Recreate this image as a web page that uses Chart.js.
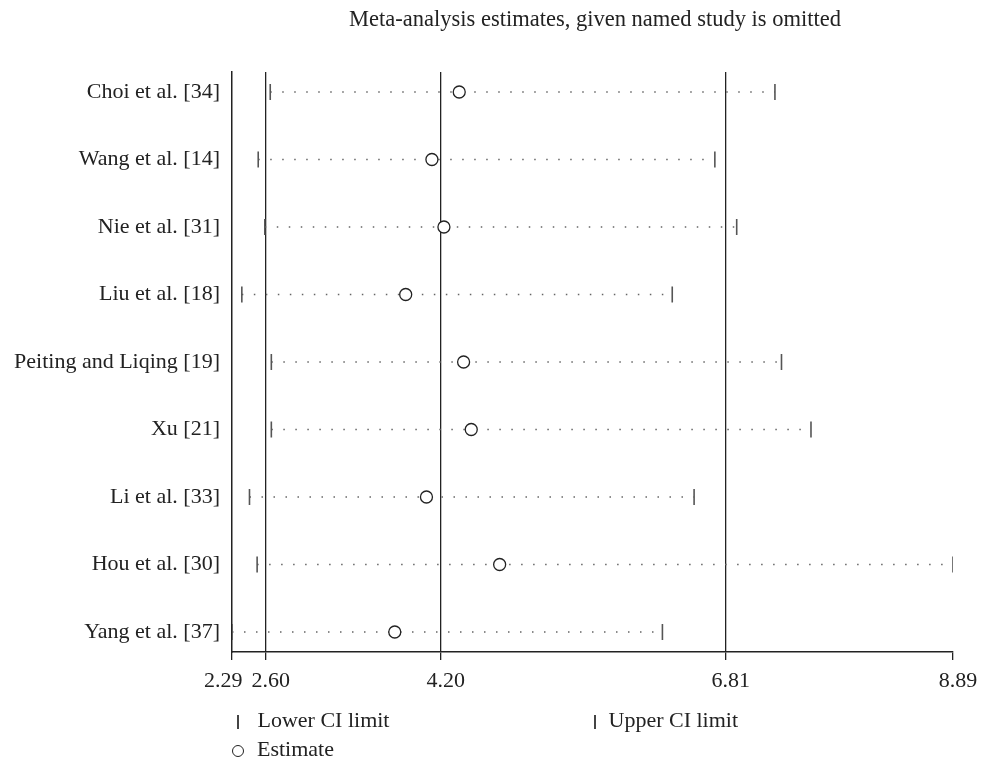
<!DOCTYPE html>
<html>
<head>
<meta charset="utf-8">
<script src="https://cdn.jsdelivr.net/npm/chart.js@4.4.0/dist/chart.umd.min.js"></script>
<style>
  body { margin: 0; background: #fff; font-family: "Liberation Serif", serif; color: #222; }
  #wrap { position: relative; width: 981px; height: 761px; }
  .title { position: absolute; left: 595px; top: 19px; transform: translate(-50%, -50%); font-size: 22.5px; white-space: nowrap; }
  .leg { position: absolute; font-size: 22px; white-space: nowrap; transform: translateY(-50%); }
  .bar { display: inline-block; width: 1.5px; height: 14px; background: #444; vertical-align: middle; margin-right: 19px; }
  .ring { display: inline-block; width: 10px; height: 10px; border: 1.3px solid #222; border-radius: 50%; vertical-align: middle; margin-left: -5px; margin-right: 13px; }
</style>
</head>
<body>
<div id="wrap">
  <canvas id="chart1"></canvas>
  <div class="title">Meta-analysis estimates, given named study is omitted</div>
  <div class="leg" style="left:237px; top:720px;"><span class="bar"></span>Lower CI limit</div>
  <div class="leg" style="left:594px; top:720px;"><span class="bar" style="margin-right:13px"></span>Upper CI limit</div>
  <div class="leg" style="left:237px; top:749px;"><span class="ring"></span>Estimate</div>
</div>
<script>
// studies, top to bottom
var studies = ['Choi et al. [34]', 'Wang et al. [14]', 'Nie et al. [31]', 'Liu et al. [18]',
  'Peiting and Liqing [19]', 'Xu [21]', 'Li et al. [33]', 'Hou et al. [30]', 'Yang et al. [37]'];
var lowerCI = [2.64, 2.53, 2.59, 2.38, 2.65, 2.65, 2.45, 2.52, 2.29];
var estimate = [4.37, 4.12, 4.23, 3.88, 4.41, 4.48, 4.07, 4.74, 3.78];
var upperCI = [7.26, 6.71, 6.91, 6.32, 7.32, 7.59, 6.52, 8.89, 6.23];
var xTicks = [2.29, 2.60, 4.20, 6.81, 8.89];
var refLines = [2.60, 4.20, 6.81];

var font = { family: '"Liberation Serif", serif', size: 22 };

var datasets = [];

datasets.push({
  label: 'Estimate',
  data: estimate.map((v, i) => ({ x: v, y: i })),
  pointStyle: 'circle',
  pointRadius: 6,
  pointBackgroundColor: '#fff',
  pointBorderColor: '#222',
  pointBorderWidth: 1.3,
  showLine: false,
  order: 0
});

[['Lower CI limit', lowerCI], ['Upper CI limit', upperCI]].forEach(function (d) {
  datasets.push({
    label: d[0],
    data: d[1].map((v, i) => ({ x: v, y: i })),
    pointStyle: 'line',
    rotation: 90,
    pointRadius: 8,
    pointBorderColor: '#555',
    pointBorderWidth: 1.6,
    showLine: false,
    order: 1
  });
});

// dotted line between the CI limits for each study
studies.forEach(function (name, i) {
  datasets.push({
    label: name,
    data: [{ x: lowerCI[i], y: i }, { x: upperCI[i], y: i }],
    showLine: true,
    borderColor: '#666',
    borderWidth: 1.5,
    borderDash: [1.5, 10.5],
    pointRadius: 0,
    order: 2
  });
});

var config = {
  type: 'scatter',
  data: { datasets: datasets },
  options: {
    responsive: true,
    maintainAspectRatio: false,
    animation: false,
    events: [],
    layout: { padding: { top: 72, right: 28, bottom: 0, left: 0 } },
    plugins: { legend: { display: false }, tooltip: { enabled: false }, title: { display: false } },
    scales: {
      x: {
        type: 'linear',
        min: 2.29,
        max: 8.89,
        afterBuildTicks: function (scale) { scale.ticks = xTicks.map(v => ({ value: v })); },
        afterFit: function (scale) { scale.height = 109; },
        ticks: {
          color: '#222',
          font: font,
          padding: 8,
          labelOffset: 5,
          maxRotation: 0,
          autoSkip: false,
          // first label is nudged left so it clears 2.60
          callback: v => v === 2.29 ? '2.29     ' : Number(v).toFixed(2)
        },
        grid: {
          color: ctx => (ctx.tick && refLines.indexOf(ctx.tick.value) >= 0) ? '#222' : 'rgba(0,0,0,0)',
          tickColor: '#222',
          lineWidth: 1.3,
          tickLength: 8
        },
        border: { display: true, color: '#222', width: 1.5 }
      },
      y: {
        type: 'linear',
        reverse: true,
        min: -0.296,
        max: 8.296,
        afterBuildTicks: function (scale) { scale.ticks = studies.map((s, i) => ({ value: i })); },
        afterFit: function (scale) { scale.width = 232; },
        ticks: {
          color: '#222',
          font: font,
          padding: 12,
          autoSkip: false,
          callback: v => studies[v]
        },
        grid: { display: false, drawTicks: false },
        border: { display: true, color: '#222', width: 1.5 }
      }
    }
  }
};

var ctx = document.getElementById('chart1').getContext('2d');
window.chart1 = new Chart(ctx, config);
</script>
</body>
</html>
